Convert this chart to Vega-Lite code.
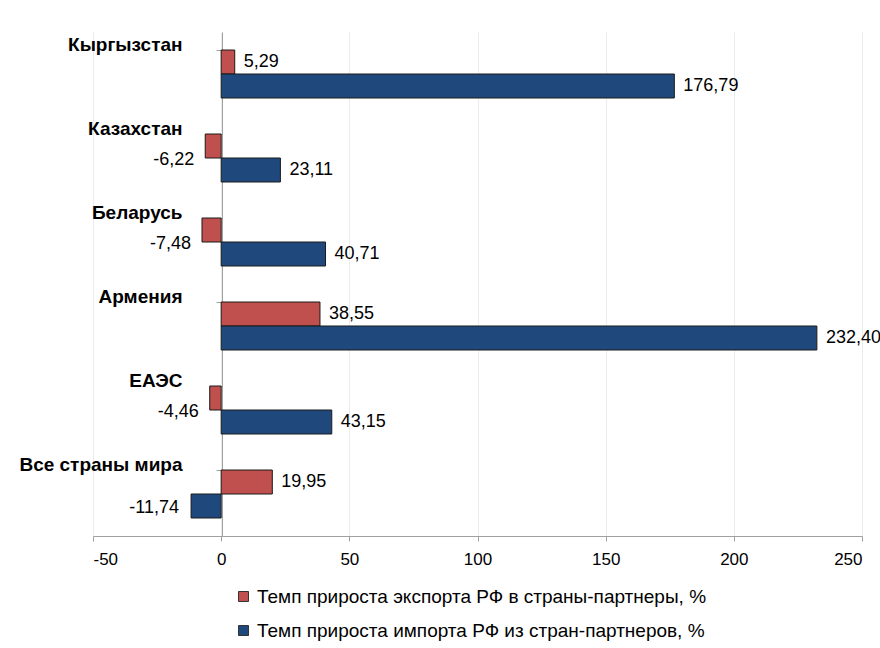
{
  "$schema": "https://vega.github.io/schema/vega-lite/v6.json",
  "width": 769,
  "height": 504,
  "autosize": {"type": "none"},
  "padding": {"left": 93, "top": 32, "right": 18, "bottom": 112},
  "background": "white",
  "data": {
    "values": [
      {"country": "Кыргызстан", "series": "Темп прироста экспорта РФ в страны-партнеры, %", "value": 5.29},
      {"country": "Кыргызстан", "series": "Темп прироста импорта РФ из стран-партнеров, %", "value": 176.79},
      {"country": "Казахстан", "series": "Темп прироста экспорта РФ в страны-партнеры, %", "value": -6.22},
      {"country": "Казахстан", "series": "Темп прироста импорта РФ из стран-партнеров, %", "value": 23.11},
      {"country": "Беларусь", "series": "Темп прироста экспорта РФ в страны-партнеры, %", "value": -7.48},
      {"country": "Беларусь", "series": "Темп прироста импорта РФ из стран-партнеров, %", "value": 40.71},
      {"country": "Армения", "series": "Темп прироста экспорта РФ в страны-партнеры, %", "value": 38.55},
      {"country": "Армения", "series": "Темп прироста импорта РФ из стран-партнеров, %", "value": 232.40},
      {"country": "ЕАЭС", "series": "Темп прироста экспорта РФ в страны-партнеры, %", "value": -4.46},
      {"country": "ЕАЭС", "series": "Темп прироста импорта РФ из стран-партнеров, %", "value": 43.15},
      {"country": "Все страны мира", "series": "Темп прироста экспорта РФ в страны-партнеры, %", "value": 19.95},
      {"country": "Все страны мира", "series": "Темп прироста импорта РФ из стран-партнеров, %", "value": -11.74}
    ]
  },
  "encoding": {
    "y": {
      "field": "country",
      "type": "nominal",
      "sort": ["Кыргызстан", "Казахстан", "Беларусь", "Армения", "ЕАЭС", "Все страны мира"],
      "scale": {"paddingInner": 0.4286, "paddingOuter": 0.2143},
      "axis": {
        "title": null,
        "orient": "left",
        "offset": -129,
        "bandPosition": 0,
        "domainColor": "#a0a0a0",
        "tickColor": "#a0a0a0",
        "tickSize": 6,
        "labelPadding": 34,
        "labelAlign": "right",
        "labelBaseline": "middle",
        "labelOffset": -29,
        "labelFont": "Liberation Sans",
        "labelFontWeight": "bold",
        "labelFontSize": 19,
        "labelColor": "#000000",
        "labelLimit": 300,
        "grid": false
      }
    },
    "yOffset": {
      "field": "series",
      "type": "nominal",
      "sort": ["Темп прироста экспорта РФ в страны-партнеры, %", "Темп прироста импорта РФ из стран-партнеров, %"],
      "scale": {"paddingInner": 0, "paddingOuter": 0}
    },
    "x": {
      "field": "value",
      "type": "quantitative",
      "scale": {"domain": [-50, 250], "nice": false},
      "axis": {
        "title": null,
        "values": [-50, 0, 50, 100, 150, 200, 250],
        "grid": true,
        "gridColor": "#ececec",
        "domainColor": "#a0a0a0",
        "tickColor": "#a0a0a0",
        "tickSize": 5,
        "labelPadding": 10,
        "labelFont": "Liberation Sans",
        "labelFontSize": 17,
        "labelColor": "#000000",
        "format": "d"
      }
    }
  },
  "layer": [
    {
      "mark": {"type": "bar", "stroke": "#1a1a1a", "strokeWidth": 1},
      "encoding": {
        "color": {
          "field": "series",
          "type": "nominal",
          "sort": ["Темп прироста экспорта РФ в страны-партнеры, %", "Темп прироста импорта РФ из стран-партнеров, %"],
          "scale": {
            "domain": ["Темп прироста экспорта РФ в страны-партнеры, %", "Темп прироста импорта РФ из стран-партнеров, %"],
            "range": ["#C0504D", "#1F497D"]
          },
          "legend": {
            "title": null,
            "orient": "none",
            "legendX": 141,
            "legendY": 555,
            "direction": "vertical",
            "padding": 0,
            "symbolType": "square",
            "symbolSize": 100,
            "symbolStrokeColor": "#333333",
            "symbolStrokeWidth": 1,
            "rowPadding": 14,
            "labelOffset": 4,
            "labelFont": "Liberation Sans",
            "labelFontSize": 19,
            "labelColor": "#000000",
            "labelLimit": 700
          }
        }
      }
    },
    {
      "transform": [{"filter": "datum.value >= 0"}],
      "mark": {"type": "text", "align": "left", "baseline": "middle", "dx": 9, "font": "Liberation Sans", "fontSize": 18, "color": "#000000"},
      "encoding": {"text": {"field": "value", "type": "quantitative", "format": ".2f"}}
    },
    {
      "transform": [{"filter": "datum.value < 0 && datum.series == 'Темп прироста экспорта РФ в страны-партнеры, %'"}],
      "mark": {"type": "text", "align": "right", "baseline": "middle", "dx": -11, "dy": 14, "font": "Liberation Sans", "fontSize": 18, "color": "#000000"},
      "encoding": {"text": {"field": "value", "type": "quantitative", "format": ".2f"}}
    },
    {
      "transform": [{"filter": "datum.value < 0 && datum.series == 'Темп прироста импорта РФ из стран-партнеров, %'"}],
      "mark": {"type": "text", "align": "right", "baseline": "middle", "dx": -12, "dy": 2, "font": "Liberation Sans", "fontSize": 18, "color": "#000000"},
      "encoding": {"text": {"field": "value", "type": "quantitative", "format": ".2f"}}
    }
  ],
  "config": {
    "view": {"stroke": null},
    "locale": {
      "number": {"decimal": ",", "thousands": " ", "grouping": [3], "currency": ["", ""], "minus": "-"}
    }
  }
}
